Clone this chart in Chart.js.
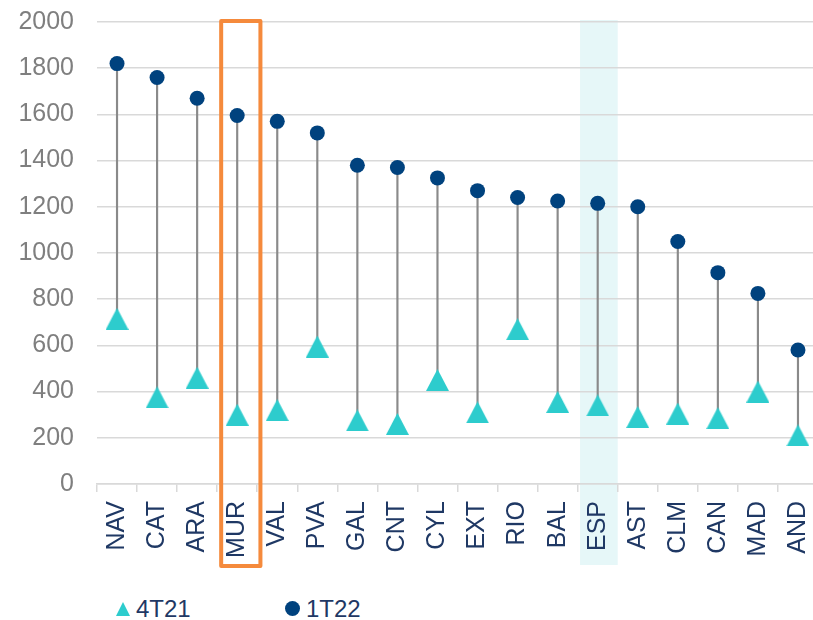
<!DOCTYPE html>
<html>
<head>
<meta charset="utf-8">
<script src="https://cdn.jsdelivr.net/npm/chart.js@4"></script>
<style>
  html, body { margin: 0; padding: 0; background: #fff; overflow: hidden; }
  #wrap { position: relative; width: 813px; height: 620px; overflow: hidden; }
  #chartBox { position: absolute; left: 0; top: 0; width: 818px; height: 575px; }
  .legend { position: absolute; top: 593px; font-family: "Liberation Sans", Arial, sans-serif; font-size: 24px; color: #1F3864; }
  .legend span { display: inline-block; vertical-align: middle; }
  .tri { width: 0; height: 0; border-left: 7.5px solid transparent; border-right: 7.5px solid transparent; border-bottom: 14px solid #2DCCCD; margin-right: 6px; }
  .dot { width: 15px; height: 15px; border-radius: 50%; background: #00427E; margin-right: 6px; }
</style>
</head>
<body>
<div id="wrap">
  <div id="chartBox"><canvas id="lollipop" width="818" height="575"></canvas></div>
  <div class="legend" style="left:116px"><span class="tri"></span><span>4T21</span></div>
  <div class="legend" style="left:285px"><span class="dot"></span><span>1T22</span></div>
</div>
<script>
  // regions, sorted by 1T22
  const regions = ['NAV', 'CAT', 'ARA', 'MUR', 'VAL', 'PVA', 'GAL', 'CNT', 'CYL', 'EXT', 'RIO', 'BAL', 'ESP', 'AST', 'CLM', 'CAN', 'MAD', 'AND'];
  const q4_21 = [715, 375, 460, 300, 320, 595, 275, 260, 450, 310, 670, 355, 340, 290, 305, 285, 400, 210];
  const q1_22 = [1820, 1760, 1670, 1595, 1570, 1520, 1380, 1370, 1325, 1270, 1240, 1225, 1215, 1200, 1050, 915, 825, 580];
  const seriesNames = ['4T21', '1T22'];
  const yTicks = [0, 200, 400, 600, 800, 1000, 1200, 1400, 1600, 1800, 2000];

  const highlightBox = 'MUR';  // orange frame
  const highlightBand = 'ESP'; // light band

  const NAVY = '#00427E';
  const TEAL = '#2DCCCD';

  // triangle marker centred on the point (chart.js one sits low)
  function makeTriangle(w, h, color) {
    const c = document.createElement('canvas');
    c.width = w; c.height = h;
    const g = c.getContext('2d');
    g.fillStyle = color;
    g.beginPath();
    g.moveTo(w / 2, 0);
    g.lineTo(w, h);
    g.lineTo(0, h);
    g.closePath();
    g.fill();
    return c;
  }
  const triangle = makeTriangle(23, 22, TEAL);

  function catWidth(x) {
    return x.getPixelForValue(1) - x.getPixelForValue(0);
  }

  const highlights = {
    id: 'highlights',
    beforeDraw(chart) {
      const ctx = chart.ctx, x = chart.scales.x, y = chart.scales.y;
      const cw = catWidth(x);
      const cx = x.getPixelForValue(regions.indexOf(highlightBand));
      const top = y.getPixelForValue(2000) - 2;
      ctx.save();
      ctx.fillStyle = '#E6F7F8';
      ctx.fillRect(cx - cw * 0.44, top, cw * 0.94, chart.chartArea.bottom + 81 - top);
      ctx.restore();
    },
    afterDraw(chart) {
      const ctx = chart.ctx, x = chart.scales.x, y = chart.scales.y;
      const cw = catWidth(x);
      const cx = x.getPixelForValue(regions.indexOf(highlightBox));
      const top = y.getPixelForValue(2000) - 1;
      ctx.save();
      ctx.strokeStyle = '#F58A3C';
      ctx.lineWidth = 4;
      ctx.lineJoin = 'round';
      ctx.strokeRect(cx - cw * 0.4, top, cw * 0.98, chart.chartArea.bottom + 82 - top);
      ctx.restore();
    }
  };

  const ctx = document.getElementById('lollipop').getContext('2d');
  const chart = new Chart(ctx, {
    type: 'bar',
    data: {
      labels: regions,
      datasets: [
        {
          type: 'line',
          label: seriesNames[1],
          data: q1_22,
          showLine: false,
          pointStyle: 'circle',
          pointRadius: 7.5,
          pointBackgroundColor: NAVY,
          pointBorderWidth: 0,
          order: 1
        },
        {
          type: 'line',
          label: seriesNames[0],
          data: q4_21,
          showLine: false,
          pointStyle: triangle,
          pointRadius: 11,
          pointBackgroundColor: TEAL,
          order: 2
        },
        {
          type: 'bar',
          label: 'stem',
          data: regions.map((r, i) => [q4_21[i], q1_22[i]]),
          backgroundColor: '#8A8A8A',
          barThickness: 1.5,
          order: 3
        }
      ]
    },
    plugins: [highlights],
    options: {
      responsive: false,
      animation: false,
      layout: { autoPadding: false, padding: { left: 0, right: 0, top: 22, bottom: 0 } },
      plugins: {
        legend: { display: false },
        tooltip: { enabled: false }
      },
      scales: {
        x: {
          offset: true,
          grid: { offset: true, drawOnChartArea: false, drawTicks: true, tickLength: 8, color: '#D9D9D9', lineWidth: 1.5 },
          border: { color: '#D9D9D9', width: 1.5 },
          ticks: {
            minRotation: 90, maxRotation: 90, padding: 9, autoSkip: false,
            color: '#1F3864',
            font: { family: 'Liberation Sans', size: 25 }
          },
          afterFit(scale) {
            scale.height = 91;
            scale.paddingLeft = 0;
            scale.paddingRight = 0;
          }
        },
        y: {
          min: 0, max: 2000,
          afterBuildTicks(scale) { scale.ticks = yTicks.map(v => ({ value: v })); },
          grid: { color: '#D9D9D9', lineWidth: 1.5, drawTicks: false },
          border: { display: false },
          ticks: {
            padding: 23,
            color: '#7F7F7F',
            font: { family: 'Liberation Sans', size: 25 },
            callback: v => String(v)
          },
          afterFit(scale) {
            scale.width = 97;
            scale.paddingTop = 0;
            scale.paddingBottom = 0;
          }
        }
      }
    }
  });
</script>
</body>
</html>
